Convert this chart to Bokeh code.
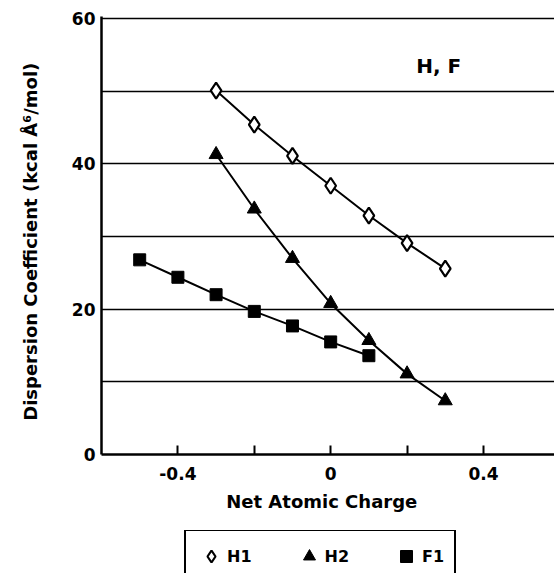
from bokeh.plotting import figure
from bokeh.layouts import column
from bokeh.models import Legend, LegendItem, Label, FixedTicker, Range1d
from bokeh.embed import file_html
from bokeh.resources import INLINE

# Data
h1_x = [-0.3, -0.2, -0.1, 0.0, 0.1, 0.2, 0.3]
h1_y = [50.1, 45.4, 41.1, 37.0, 32.9, 29.1, 25.6]
h2_x = [-0.3, -0.2, -0.1, 0.0, 0.1, 0.2, 0.3]
h2_y = [41.3, 33.8, 27.0, 20.8, 15.7, 11.1, 7.4]
f1_x = [-0.5, -0.4, -0.3, -0.2, -0.1, 0.0, 0.1]
f1_y = [26.8, 24.4, 22.0, 19.7, 17.7, 15.5, 13.6]

x_ticks = [-0.4, -0.2, 0.0, 0.2, 0.4]
x_tick_labels = {-0.4: "-0.4", -0.2: "", 0.0: "0", 0.2: "", 0.4: "0.4"}
y_ticks = [0, 10, 20, 30, 40, 50, 60]
y_tick_labels = {0: "0", 10: "", 20: "20", 30: "", 40: "40", 50: "", 60: "60"}
grid_values = [10, 20, 30, 40, 50, 60]

FONT = "DejaVu Sans"
NAN = float("nan")

p = figure(width=554, height=530, output_backend="svg", toolbar_location=None,
           x_range=Range1d(-0.6, 0.586), y_range=Range1d(0, 60.3),
           min_border_left=101, min_border_top=16, min_border_bottom=76,
           min_border_right=0)
p.outline_line_color = None
p.background_fill_color = "white"
p.border_fill_color = "white"

# Axes
p.xaxis.ticker = FixedTicker(ticks=x_ticks)
p.xaxis.major_label_overrides = x_tick_labels
p.yaxis.ticker = FixedTicker(ticks=y_ticks)
p.yaxis.major_label_overrides = y_tick_labels
for ax in (p.xaxis[0], p.yaxis[0]):
    ax.axis_line_color = "black"
    ax.axis_line_width = 2.5
    ax.major_tick_line_color = "black"
    ax.major_tick_line_width = 2
    ax.minor_tick_line_color = None
    ax.major_label_text_font = FONT
    ax.major_label_text_font_style = "bold"
    ax.major_label_text_font_size = "17px"
    ax.major_label_text_color = "black"
    ax.axis_label_text_font = FONT
    ax.axis_label_text_font_style = "bold"
    ax.axis_label_text_font_size = "18px"
    ax.axis_label_text_color = "black"
p.xaxis.major_tick_in = 9
p.xaxis.major_tick_out = 0
p.yaxis.major_tick_in = 0
p.yaxis.major_tick_out = 0
p.xaxis.major_label_standoff = 12
p.yaxis.major_label_standoff = 6
p.xaxis.axis_label = "Net  Atomic  Charge"
p.xaxis.axis_label_standoff = 8
p.yaxis.axis_label = "Dispersion  Coefficient  (kcal Å\u2076/mol)"
p.yaxis.axis_label_standoff = 28

p.xgrid.grid_line_color = None
p.ygrid.ticker = FixedTicker(ticks=grid_values)
p.ygrid.grid_line_color = "black"
p.ygrid.grid_line_width = 1.6

# Series
p.line(h1_x, h1_y, line_color="black", line_width=2)
p.scatter(h1_x, h1_y, marker="diamond", size=16, fill_color="white",
          line_color="black", line_width=2.2)
p.line(h2_x, h2_y, line_color="black", line_width=2)
p.scatter(h2_x, h2_y, marker="triangle", size=14, fill_color="black",
          line_color="black", line_width=1)
p.line(f1_x, f1_y, line_color="black", line_width=2)
p.scatter(f1_x, f1_y, marker="square", size=12, fill_color="black",
          line_color="black", line_width=1)

p.add_layout(Label(x=0.283, y=53.5, text="H, F", text_font=FONT,
                   text_font_style="bold", text_font_size="20px",
                   text_color="black",
                   text_align="center", text_baseline="middle"))

# Legend panel below the chart
q = figure(width=554, height=43, output_backend="svg", toolbar_location=None,
           x_axis_type=None, y_axis_type=None,
           x_range=Range1d(0, 1), y_range=Range1d(0, 1),
           min_border_left=0, min_border_right=0, min_border_top=0,
           min_border_bottom=0)
q.outline_line_color = None
q.xgrid.grid_line_color = None
q.ygrid.grid_line_color = None
q.background_fill_color = "white"
q.border_fill_color = "white"
# legend proxies (NaN positions: nothing is drawn in the panel itself)
lg_h1 = q.scatter(x=[NAN], y=[NAN], marker="diamond", fill_color="white",
                  line_color="black", line_width=2.2)
lg_h2 = q.scatter(x=[NAN], y=[NAN], marker="triangle", fill_color="black",
                  line_color="black", line_width=1)
lg_f1 = q.scatter(x=[NAN], y=[NAN], marker="square", fill_color="black",
                  line_color="black", line_width=1)

legend = Legend(items=[LegendItem(label="H1", renderers=[lg_h1]),
                       LegendItem(label="H2", renderers=[lg_h2]),
                       LegendItem(label="F1", renderers=[lg_f1])],
                orientation="horizontal", location=(83, -10),
                label_text_font=FONT, label_text_font_style="bold",
                label_text_font_size="16px", label_text_color="black",
                label_standoff=1,
                glyph_width=30, glyph_height=30, spacing=42, padding=10,
                border_line_color="black", border_line_width=2,
                border_line_alpha=1.0,
                background_fill_color="white", margin=0)
q.add_layout(legend, "center")

layout = column(p, q, spacing=0)
open("out.html", "w").write(file_html(layout, INLINE))
